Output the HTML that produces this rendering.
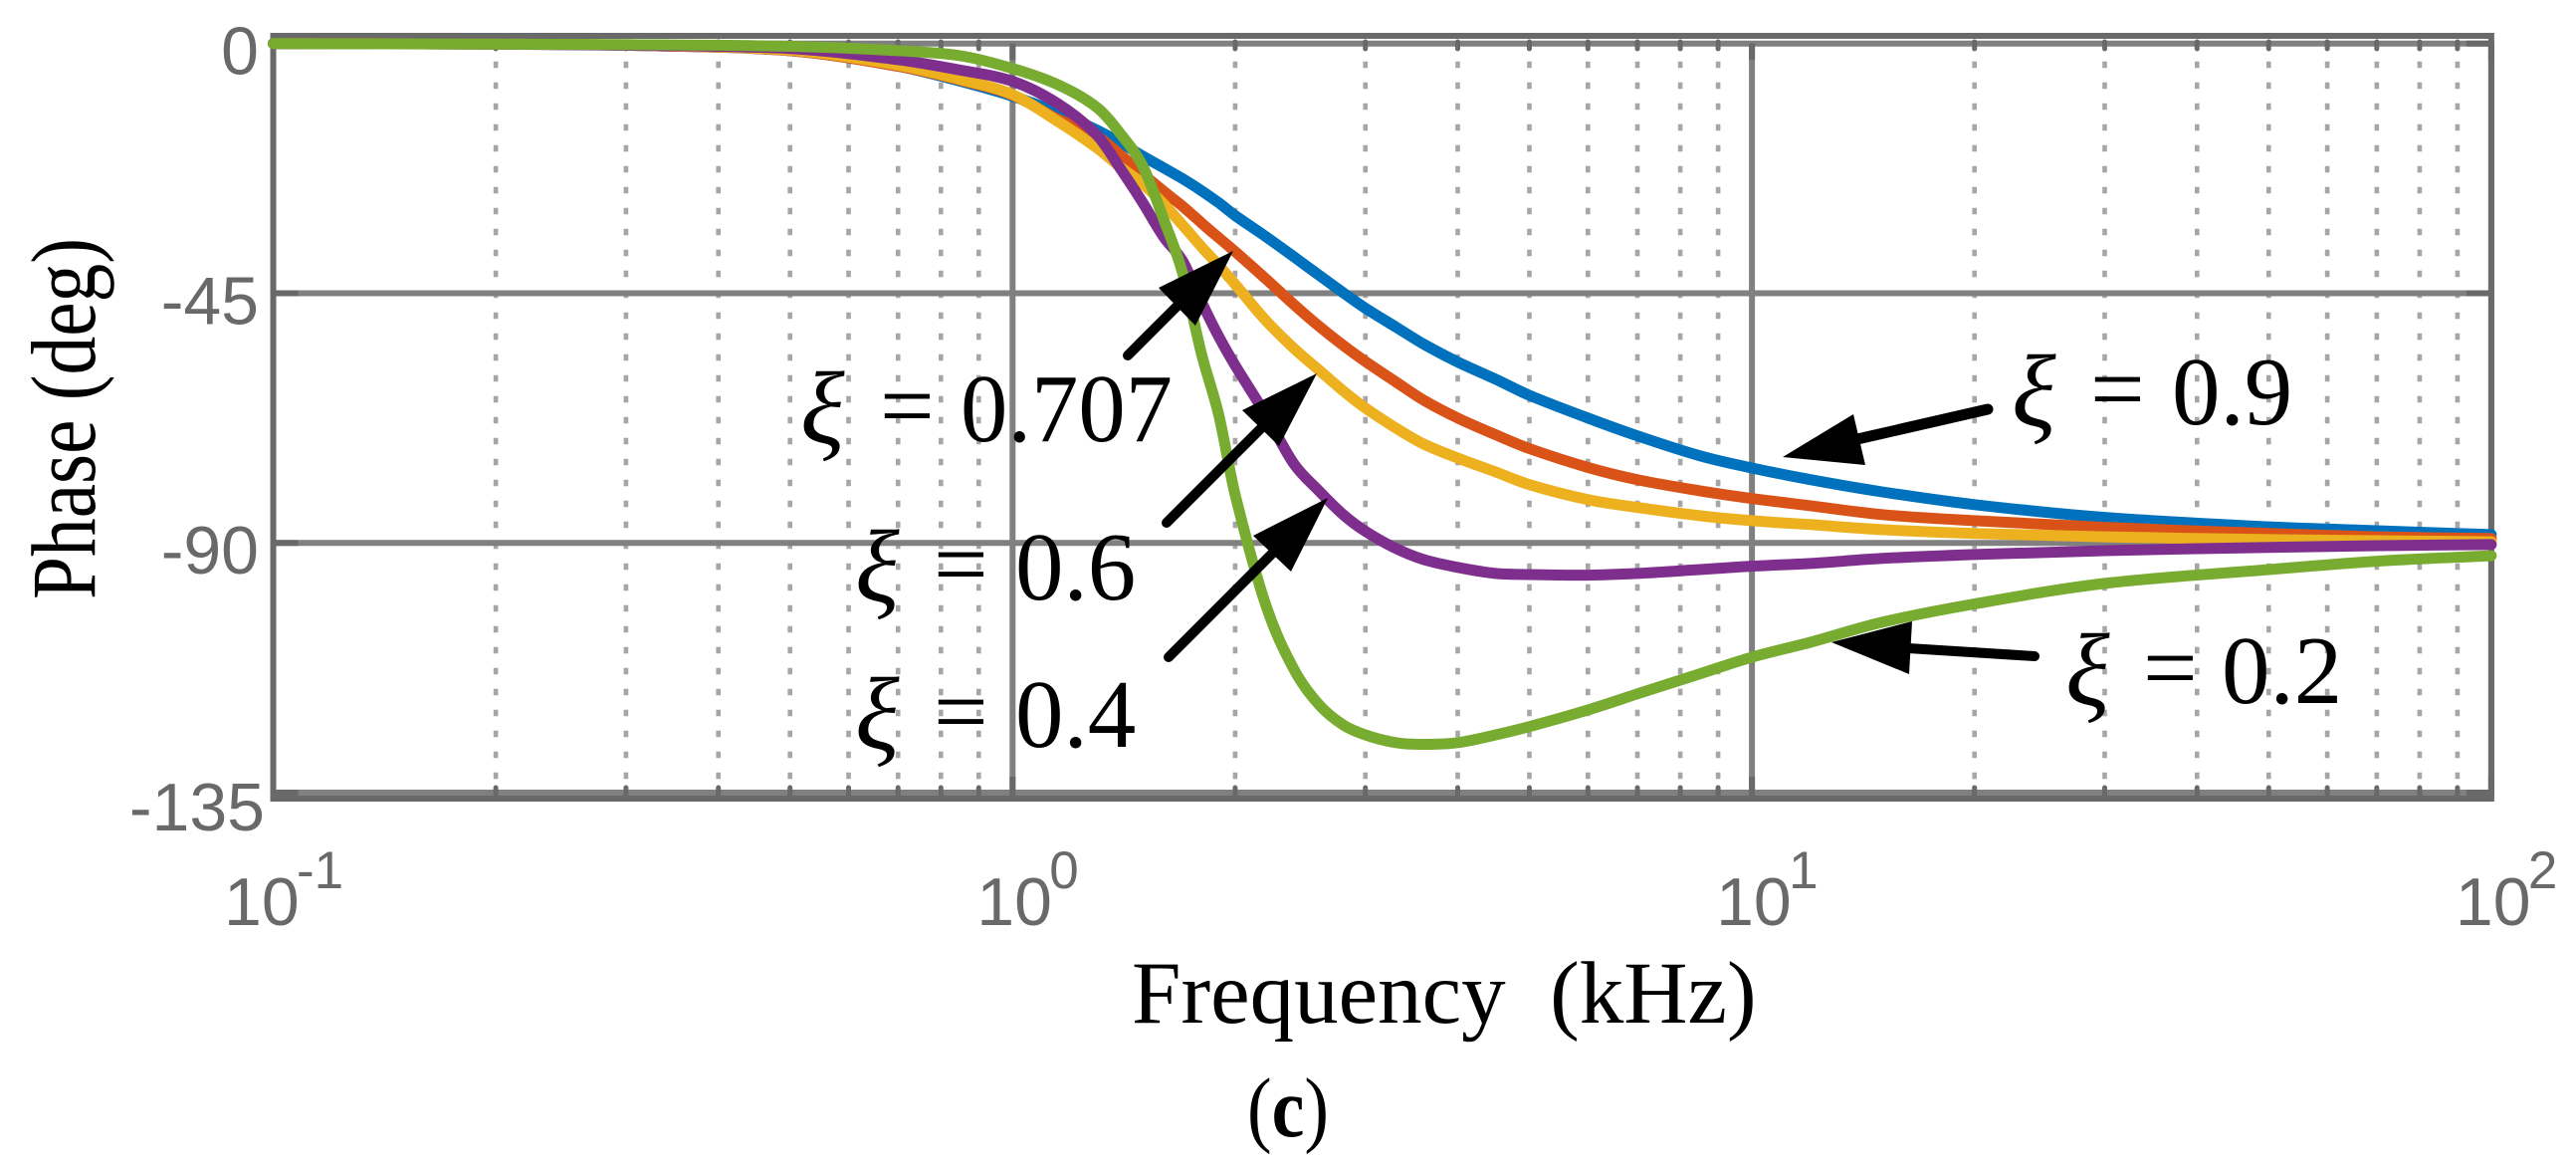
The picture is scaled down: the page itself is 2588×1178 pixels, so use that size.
<!DOCTYPE html>
<html lang="en">
<head>
<meta charset="utf-8">
<title>Phase vs Frequency</title>
<style>
html,body{margin:0;padding:0;background:#fff;}
svg{display:block;}
.tick{font-family:"Liberation Sans",sans-serif;fill:#696969;}
.serif{font-family:"Liberation Serif",serif;fill:#000;}
</style>
</head>
<body>
<svg id="chart" xmlns="http://www.w3.org/2000/svg" width="2588" height="1178" viewBox="0 0 2588 1178">
  <rect x="0" y="0" width="2588" height="1178" fill="#fff"/>
  <g id="grid"></g>
  <g id="frame"></g>
  <g id="series"></g>
  <g id="labels"></g>

  <g>
    <line x1="1133" y1="357" x2="1190" y2="300" stroke="#000" stroke-width="10" stroke-linecap="round"/>
    <polygon points="1239,252 1164,289 1201,327" fill="#000"/>
  </g>
  <g>
    <line x1="1172" y1="525" x2="1272" y2="425" stroke="#000" stroke-width="10" stroke-linecap="round"/>
    <polygon points="1323,375 1248,412 1285,448" fill="#000"/>
  </g>
  <g>
    <line x1="1174" y1="660" x2="1284" y2="550" stroke="#000" stroke-width="10" stroke-linecap="round"/>
    <polygon points="1334,500 1259,538 1297,574" fill="#000"/>
  </g>
  <g>
    <line x1="1997" y1="411" x2="1866" y2="441" stroke="#000" stroke-width="11" stroke-linecap="round"/>
    <polygon points="1791,459 1862,416 1874,467" fill="#000"/>
  </g>
  <g>
    <line x1="2044" y1="659" x2="1917" y2="651" stroke="#000" stroke-width="10" stroke-linecap="round"/>
    <polygon points="1840,645 1921,624 1918,677" fill="#000"/>
  </g>

  <g class="serif" font-size="97">
    <text x="804" y="445" font-size="104" font-style="italic">ξ</text>
    <text x="884" y="440">=</text>
    <text x="965" y="443" textLength="213" lengthAdjust="spacingAndGlyphs">0.707</text>
  </g>
  <g class="serif" font-size="97">
    <text x="859" y="604" font-size="104" font-style="italic">ξ</text>
    <text x="938" y="599">=</text>
    <text x="1020" y="602">0.6</text>
  </g>
  <g class="serif" font-size="97">
    <text x="859" y="752" font-size="104" font-style="italic">ξ</text>
    <text x="938" y="747">=</text>
    <text x="1020" y="750">0.4</text>
  </g>
  <g class="serif" font-size="97">
    <text x="2021" y="428" font-size="104" font-style="italic">ξ</text>
    <text x="2100" y="423">=</text>
    <text x="2182" y="426">0.9</text>
  </g>
  <g class="serif" font-size="97">
    <text x="2075" y="708" font-size="104" font-style="italic">ξ</text>
    <text x="2153" y="703">=</text>
    <text x="2232" y="706">0.2</text>
  </g>

  <text class="serif" font-size="92" transform="translate(95,602) rotate(-90)" textLength="363" lengthAdjust="spacingAndGlyphs">Phase (deg)</text>
  <text class="serif" font-size="89" x="1137" y="1027" xml:space="preserve">Frequency  (kHz)</text>
  <text class="serif" font-size="85" x="1253" y="1141" textLength="82" lengthAdjust="spacingAndGlyphs">(<tspan font-weight="bold">c</tspan>)</text>
</svg>

<script>
const frequenciesKHz = [0.1,0.2,0.3,0.5,0.7,0.85,1,1.15,1.3,1.4,1.5,1.6,1.7,1.8,1.9,2,2.2,2.4,2.6,2.8,3,3.3,3.6,4,4.5,5,6,7,8.5,10,12,15,20,30,50,70,100];

const phaseXi09 = [0,-0.1,-0.3,-1.3,-4.1,-6.8,-9.5,-12.4,-15.6,-17.9,-20.3,-22.4,-24.4,-26.5,-28.7,-31,-34.8,-38.4,-41.8,-44.9,-47.7,-51.1,-54.2,-57.4,-60.5,-63.4,-67.5,-70.7,-74.3,-76.5,-78.6,-80.8,-83.1,-85.4,-87.1,-87.8,-88.5];
const phaseXi0707 = [0,-0.1,-0.3,-1.3,-4.1,-6.6,-9.3,-13.6,-16.7,-20.1,-23.5,-26.6,-29.4,-32.3,-35,-37.5,-42.4,-47,-51,-54.4,-57.3,-61,-64.3,-67.5,-70.5,-73,-76.4,-78.6,-80.6,-82,-83.3,-84.9,-86,-87.2,-88.3,-88.9,-89.2];
const phaseXi06 = [0,-0.1,-0.3,-1.2,-3.9,-6.5,-9.2,-14,-18.8,-22.3,-25.3,-28.9,-32.8,-36.6,-40,-43.4,-49.9,-54.9,-58.9,-62.6,-65.7,-69.3,-72.2,-74.7,-77.2,-79.5,-82.2,-83.6,-85.1,-86,-86.7,-87.6,-88.3,-88.9,-89.4,-89.6,-89.8];
const phaseXi04 = [0,-0.1,-0.3,-0.9,-2.9,-4.8,-6.8,-10.8,-16.5,-22.6,-28.7,-34.8,-39.3,-46.5,-52.8,-58,-66.9,-75.7,-80.7,-84.9,-87.9,-91,-93,-94.4,-95.5,-95.7,-95.8,-95.5,-94.8,-94.2,-93.7,-92.8,-92.1,-91.4,-90.8,-90.5,-90.3];
const phaseXi02 = [0,-0.1,-0.2,-0.5,-1.3,-2.2,-4.5,-7.4,-11.5,-16.3,-22.1,-31.6,-41.6,-55.8,-66.9,-81.3,-101.2,-112.7,-119.2,-122.8,-124.6,-126,-126.3,-126,-124.6,-123.1,-120.1,-117.2,-113.6,-110.6,-107.9,-104.3,-101,-97.3,-94.8,-93.3,-92.3];

const yTickValues = [0,-45,-90,-135];
const yTickLabels = ["0","-45","-90","-135"];
const xDecadeExponents = [-1,0,1,2];
const xTickExponentLabels = ["-1","0","1","2"];
const minorMultipliers = [2,3,4,5,6,7,8,9];

const NS = "http://www.w3.org/2000/svg";
const PLOT_LEFT = 274.5, PLOT_DECADE = 742.8, Y_TOP = 43.7, Y_PER_DEG = 752.3 / 135;
function xScale(f) { return PLOT_LEFT + PLOT_DECADE * (Math.log10(f) + 1); }
function yScale(d) { return Y_TOP - d * Y_PER_DEG; }
const X_RIGHT = xScale(100), Y_BOTTOM = yScale(-135);

function mk(tag, parent, attrs) {
  const el = document.createElementNS(NS, tag);
  for (const k in attrs) el.setAttribute(k, attrs[k]);
  parent.appendChild(el);
  return el;
}
const gridG = document.getElementById("grid");
const frameG = document.getElementById("frame");
const seriesG = document.getElementById("series");
const labelsG = document.getElementById("labels");

// minor vertical grid and ticks
xDecadeExponents.slice(0, -1).forEach(function (e) {
  minorMultipliers.forEach(function (m) {
    const x = xScale(m * Math.pow(10, e));
    const g = mk("line", gridG, {x1:x, x2:x, y1:61.8, y2:784, stroke:"#a6a6a6", "stroke-width":4.6, "stroke-dasharray":"6.5 14.5"});
    
    
    const t1 = mk("line", frameG, {x1:x, x2:x, y1:42, y2:49, stroke:"#696969", "stroke-width":5, "stroke-linecap":"round"});
    
    
    const t2 = mk("line", frameG, {x1:x, x2:x, y1:791, y2:800, stroke:"#696969", "stroke-width":5, "stroke-linecap":"round"});
    
    
  });
});

// major horizontal grid and y ticks
yTickValues.forEach(function (v) {
  const y = yScale(v);
  const g = mk("line", gridG, {x1:PLOT_LEFT, x2:X_RIGHT, y1:y, y2:y, stroke:"#808080", "stroke-width":6});
  
  
  const tl = mk("line", frameG, {x1:PLOT_LEFT, x2:PLOT_LEFT + 25, y1:y, y2:y, stroke:"#696969", "stroke-width":6});
  
  
  const tr = mk("line", frameG, {x1:X_RIGHT - 25, x2:X_RIGHT, y1:y, y2:y, stroke:"#696969", "stroke-width":6});
  
  
});

// major vertical grid and x ticks
xDecadeExponents.forEach(function (e) {
  const x = xScale(Math.pow(10, e));
  const g = mk("line", gridG, {x1:x, x2:x, y1:Y_TOP, y2:Y_BOTTOM, stroke:"#808080", "stroke-width":6});
  
  
  const t1 = mk("line", frameG, {x1:x, x2:x, y1:Y_TOP, y2:60, stroke:"#696969", "stroke-width":6});
  
  
  const t2 = mk("line", frameG, {x1:x, x2:x, y1:780, y2:800, stroke:"#696969", "stroke-width":6});
  
  
});

// box
const box = mk("rect", frameG, {x:PLOT_LEFT, y:36, width:X_RIGHT - PLOT_LEFT, height:802 - 36, fill:"none", stroke:"#696969", "stroke-width":6});



// series, smoothed through the read points
function drawSeries(values, color, name) {
  const p = values.map(function (v, i) { return [xScale(frequenciesKHz[i]), yScale(v)]; });
  let d = "M" + p[0][0].toFixed(1) + " " + p[0][1].toFixed(1);
  for (let i = 0; i < p.length - 1; i++) {
    const a = p[Math.max(i - 1, 0)], b = p[i], c = p[i + 1], e = p[Math.min(i + 2, p.length - 1)];
    const k = (c[0] - b[0]) / 3;
    const s1 = (c[1] - a[1]) / (c[0] - a[0]);
    const s2 = (e[1] - b[1]) / (e[0] - b[0]);
    d += " C" + (b[0] + k).toFixed(1) + " " + (b[1] + s1 * k).toFixed(1) + " " + (c[0] - k).toFixed(1) + " " + (c[1] - s2 * k).toFixed(1) + " " + c[0].toFixed(1) + " " + c[1].toFixed(1);
  }
  const line = mk("path", seriesG, {d:d, fill:"none", stroke:color, "stroke-width":11, "stroke-linejoin":"round", "stroke-linecap":"round"});
  
  
}
drawSeries(phaseXi09, "#0072BD", "series-xi-0-9");
drawSeries(phaseXi0707, "#D95319", "series-xi-0-707");
drawSeries(phaseXi06, "#EDB120", "series-xi-0-6");
drawSeries(phaseXi04, "#7E2F8E", "series-xi-0-4");
drawSeries(phaseXi02, "#77AC30", "series-xi-0-2");

// y tick labels
yTickValues.forEach(function (v, i) {
  const isLast = i === yTickValues.length - 1;
  const t = mk("text", labelsG, {class:"tick", "font-size":68, "text-anchor":"end", x:isLast ? 266 : 260, y:yScale(v) + (isLast ? 38 : 31)});
  t.textContent = yTickLabels[i];
  
  
});

// x tick labels
xDecadeExponents.forEach(function (e, i) {
  const x = xScale(Math.pow(10, e));
  const left = x + (i === 0 ? -49.5 : -36);
  const b = mk("text", labelsG, {class:"tick", "font-size":68, x:left, y:929});
  b.textContent = "10";
  
  
  const s = mk("text", labelsG, {class:"tick", "font-size":53, x:left + 73, y:892});
  s.textContent = xTickExponentLabels[i];
  
  
});
</script>
</body>
</html>
